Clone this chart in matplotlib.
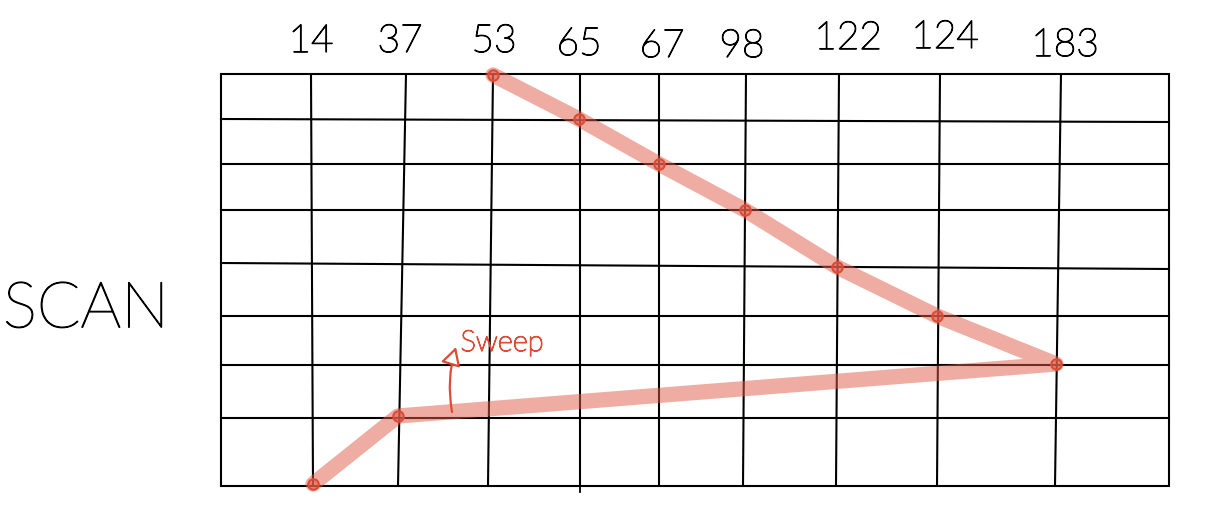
import matplotlib
matplotlib.use("Agg")
import matplotlib.pyplot as plt
import matplotlib.patheffects as pe

# disk tracks written above the grid, in the order of the columns
tracks = ["14", "37", "53", "65", "67", "98", "122", "124", "183"]

# hand drawn grid, the lines are not quite straight (pixels of the picture)
col_top = [221, 311, 406, 493, 580, 659, 746, 839, 940, 1061, 1169]
col_bottom = [221, 313, 398, 488, 580, 659, 743, 836, 937, 1055, 1169]
row_left = [74, 119, 164, 210, 263, 316, 365, 418, 486]
row_right = [74, 122, 164, 210, 269, 316, 365, 418, 486]

# scan path, same order as it is served
path_x = [313, 398, 1056, 937, 837, 745, 659, 579, 493]
path_y = [484, 416, 364, 316, 267, 210, 164, 119, 75]

# where the handwritten numbers sit
label_x = [311, 400, 494, 579, 662, 742, 848, 945, 1065]
label_y = [41, 41, 41, 44, 46, 46, 38, 37, 45]

hand = "Lato"
red = "#DF4A35"


# the light face is too thin on its own, so a stroke of the same colour thickens it
def pen(color, width):
    return [pe.withStroke(linewidth=width, foreground=color)]


fig = plt.figure(figsize=(12.24, 5.26), dpi=100)
ax = fig.add_axes([0, 0, 1, 1])
ax.set_xlim(0, 1224)
ax.set_ylim(526, 0)
ax.axis("off")

# griglia
for yl, yr in zip(row_left, row_right):
    ax.plot([221, 1169], [yl, yr], color="black", lw=1.5, solid_capstyle="projecting", zorder=2)
for xt, xb in zip(col_top, col_bottom):
    ax.plot([xt, xb], [74, 486], color="black", lw=1.5, solid_capstyle="butt", zorder=2)
# the 65 line runs a bit past the bottom
ax.plot([580, 580], [486, 492], color="black", lw=1.3, zorder=2)

# thick path
ax.plot(path_x, path_y, color="#DF5A48", alpha=0.5, lw=11, solid_capstyle="round",
        solid_joinstyle="round", zorder=3)
ax.plot(path_x, path_y, ls="none", marker="o", ms=7.5, mfc="#E2604F90", mec=red, mew=1.5, zorder=4)

for name, x, y in zip(tracks, label_x, label_y):
    ax.text(x, y, name, fontsize=28, family=hand, weight="light", ha="center", va="center",
            color="black", path_effects=pen("black", 0.9))

ax.text(86, 310, "SCAN", fontsize=46, family=hand, weight="light", ha="center", va="center",
        color="black", path_effects=pen("black", 0.9))
ax.text(502, 343, "Sweep", fontsize=21, family=hand, weight="light", ha="center", va="center",
        color=red, path_effects=pen(red, 0.9))

# curved arrow to the sweep label
ax.annotate("", xy=(456, 347), xytext=(452, 412),
            arrowprops=dict(arrowstyle="-|>,head_length=1.1,head_width=0.6", fc="white", ec=red, lw=1.6,
                            connectionstyle="arc3,rad=-0.12", shrinkA=0, shrinkB=0), zorder=5)

plt.savefig("out.png", dpi=100)
plt.close()
